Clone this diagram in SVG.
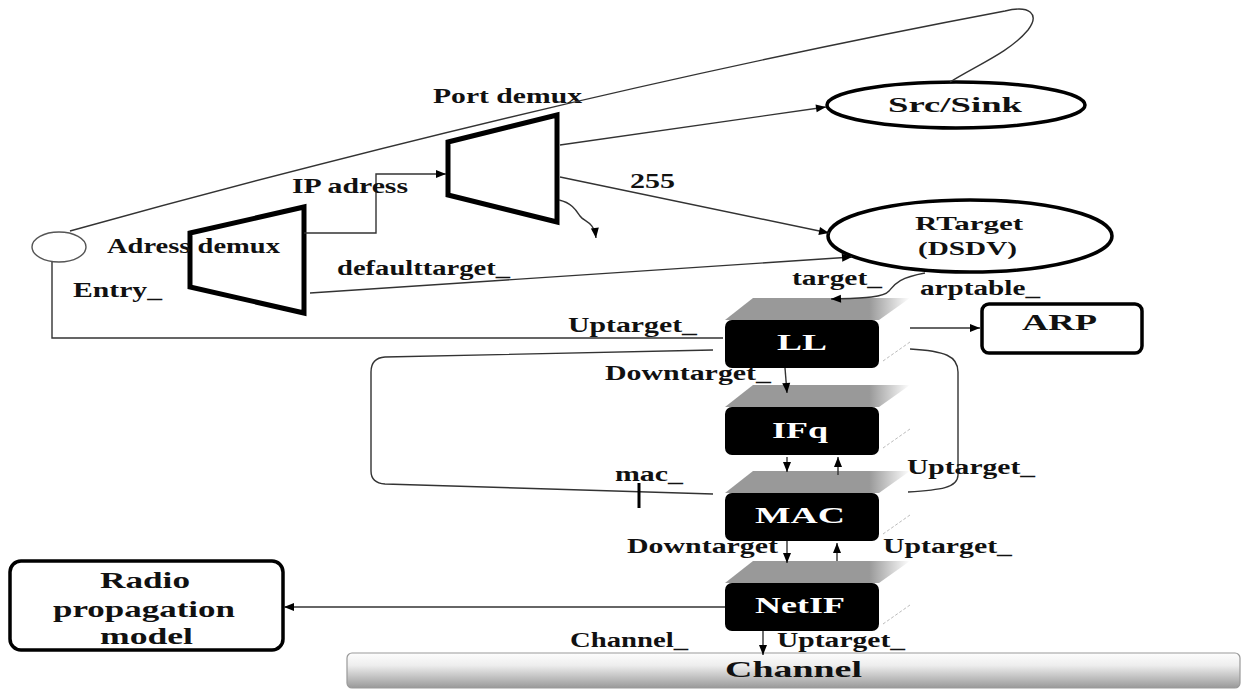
<svg xmlns="http://www.w3.org/2000/svg" width="1245" height="689" viewBox="0 0 1245 689">
<style>
.t{font-family:"Liberation Serif","Times New Roman",serif;font-weight:bold;font-size:20px;fill:#111}
.w{font-family:"Liberation Serif","Times New Roman",serif;font-weight:bold;font-size:23px;fill:#fff;text-anchor:middle}
.c{fill:none;stroke:#333;stroke-width:1.4}
.blk{fill:#000}
.top{fill:url(#tg)}
.side{fill:none;stroke:#bbb;stroke-width:1;stroke-dasharray:3 2}
.trap{fill:#fff;stroke:#000;stroke-width:5;stroke-linejoin:miter}
.ell{fill:#fff;stroke:#000;stroke-width:3.5}
.rbox{fill:#fff;stroke:#000;stroke-width:3.5}
</style>
<defs>
<marker id="a" viewBox="0 0 10 10" refX="10" refY="5" markerWidth="12" markerHeight="10" markerUnits="userSpaceOnUse" orient="auto"><path d="M0,1 L10,5 L0,9 z" fill="#000"/></marker>
<linearGradient id="tg" x1="0" y1="0" x2="1" y2="0"><stop offset="0" stop-color="#999"/><stop offset="0.78" stop-color="#999"/><stop offset="1" stop-color="#fff"/></linearGradient>
<linearGradient id="cg" x1="0" y1="0" x2="0" y2="1"><stop offset="0" stop-color="#fdfdfd"/><stop offset="0.35" stop-color="#eee"/><stop offset="1" stop-color="#999"/></linearGradient>
</defs>
<rect width="1245" height="689" fill="#fff"/>

<g id="entry">
<ellipse cx="59" cy="247" rx="27" ry="15" fill="#fff" stroke="#555" stroke-width="1.4"/>
<text class="t" x="73" y="297" textLength="89" lengthAdjust="spacingAndGlyphs">Entry_</text>
</g>

<g id="address-demux">
<polygon class="trap" points="190,233 304,207 304,313 190,287"/>
<text class="t" x="107" y="253" textLength="173" lengthAdjust="spacingAndGlyphs">Adress demux</text>
</g>

<g id="port-demux">
<polygon class="trap" points="448,142 557,115 557,222 448,195"/>
<text class="t" x="433" y="103" textLength="149" lengthAdjust="spacingAndGlyphs">Port demux</text>
</g>

<g id="src-sink">
<ellipse class="ell" cx="956" cy="105" rx="129" ry="23"/>
<text class="t" x="888" y="112" style="font-size:22px" textLength="134" lengthAdjust="spacingAndGlyphs">Src/Sink</text>
</g>

<g id="rtarget">
<ellipse class="ell" cx="970" cy="236" rx="142" ry="36"/>
<text class="t" x="915" y="230" style="font-size:19px" textLength="108" lengthAdjust="spacingAndGlyphs">RTarget</text>
<text class="t" x="918" y="255" style="font-size:19px" textLength="99" lengthAdjust="spacingAndGlyphs">(DSDV)</text>
</g>

<g id="ll">
<polygon class="top" points="725,320 753,298 910,298 879,320"/>
<line class="side" x1="883" y1="361" x2="910" y2="342"/>
<rect class="blk" x="725" y="320" width="154" height="48" rx="7"/>
<text class="w" x="802" y="350" textLength="50" lengthAdjust="spacingAndGlyphs">LL</text>
</g>

<g id="ifq">
<polygon class="top" points="725,407 753,385 910,385 879,407"/>
<line class="side" x1="883" y1="448" x2="910" y2="429"/>
<rect class="blk" x="725" y="407" width="154" height="48" rx="7"/>
<text class="w" x="800" y="438" textLength="56" lengthAdjust="spacingAndGlyphs">IFq</text>
</g>

<g id="mac">
<polygon class="top" points="725,493 753,471 910,471 879,493"/>
<line class="side" x1="883" y1="534" x2="910" y2="515"/>
<rect class="blk" x="725" y="493" width="154" height="48" rx="7"/>
<text class="w" x="800" y="523" textLength="90" lengthAdjust="spacingAndGlyphs">MAC</text>
</g>

<g id="netif">
<polygon class="top" points="725,583 753,561 910,561 879,583"/>
<line class="side" x1="883" y1="624" x2="910" y2="605"/>
<rect class="blk" x="725" y="583" width="154" height="48" rx="7"/>
<text class="w" x="800" y="613" textLength="90" lengthAdjust="spacingAndGlyphs">NetIF</text>
</g>

<g id="arp">
<rect class="rbox" x="982" y="304" width="160" height="49" rx="7"/>
<text class="t" x="1022" y="330" style="font-size:24px" textLength="75" lengthAdjust="spacingAndGlyphs">ARP</text>
</g>

<g id="radio">
<rect class="rbox" x="10" y="561" width="273" height="89" rx="11"/>
<text class="t" x="100" y="588" style="font-size:23px" textLength="90" lengthAdjust="spacingAndGlyphs">Radio</text>
<text class="t" x="53" y="617" style="font-size:23px" textLength="182" lengthAdjust="spacingAndGlyphs">propagation</text>
<text class="t" x="100" y="644" style="font-size:23px" textLength="93" lengthAdjust="spacingAndGlyphs">model</text>
</g>

<g id="channel">
<rect x="347" y="653" width="893" height="35" rx="5" fill="url(#cg)" stroke="#999" stroke-width="1.2"/>
<text class="t" x="725" y="677" style="font-size:24px" textLength="137" lengthAdjust="spacingAndGlyphs">Channel</text>
</g>

<g id="connectors">
<path class="c" d="M70,231 Q560,95 1005,11 C1030,5 1040,14 1028,30 C1010,52 975,66 950,82"/>
<path class="c" d="M52,262 L52,338 L723,338"/>
<path class="c" d="M304,233 L376,233 L376,174 L446,174" marker-end="url(#a)"/>
<path class="c" d="M310,293 L852,257" marker-end="url(#a)"/>
<path class="c" d="M560,145 L826,107" marker-end="url(#a)"/>
<path class="c" d="M560,177 L829,233" marker-end="url(#a)"/>
<path class="c" d="M559,200 C572,203 576,210 580,216 C584,222 594,221 596,238" marker-end="url(#a)"/>
<path class="c" d="M925,273 C898,278 895,284 889,291 C883,298 860,298 831,299" marker-end="url(#a)"/>
<path class="c" d="M910,328 L980,328" marker-end="url(#a)"/>
<path class="c" d="M713,350 L385,357 Q371,358 371,372 L371,471 Q371,483 385,484 L713,494"/>
<path class="c" d="M910,349 C945,351 958,356 958,372 L958,475 C958,488 940,490 908,492"/>
<path class="c" d="M785,368 L787,393" marker-end="url(#a)"/>
<path class="c" d="M787,457 L787,472" marker-end="url(#a)"/>
<path class="c" d="M838,475 L838,457" marker-end="url(#a)"/>
<path class="c" d="M787,541 L787,563" marker-end="url(#a)"/>
<path class="c" d="M837,561 L837,543" marker-end="url(#a)"/>
<path class="c" d="M763,631 L763,655" marker-end="url(#a)"/>
<path class="c" d="M725,607 L284,607" marker-end="url(#a)"/>
<path d="M639,483 L639,508" stroke="#000" stroke-width="3"/>
</g>

<g id="labels">
<text class="t" x="292" y="193" textLength="116" lengthAdjust="spacingAndGlyphs">IP adress</text>
<text class="t" x="337" y="275" textLength="173" lengthAdjust="spacingAndGlyphs">defaulttarget_</text>
<text class="t" x="630" y="188" textLength="45" lengthAdjust="spacingAndGlyphs">255</text>
<text class="t" x="792" y="285" textLength="90" lengthAdjust="spacingAndGlyphs">target_</text>
<text class="t" x="920" y="295" textLength="120" lengthAdjust="spacingAndGlyphs">arptable_</text>
<text class="t" x="568" y="332" textLength="129" lengthAdjust="spacingAndGlyphs">Uptarget_</text>
<text class="t" x="605" y="380" textLength="166" lengthAdjust="spacingAndGlyphs">Downtarget_</text>
<text class="t" x="615" y="481" textLength="68" lengthAdjust="spacingAndGlyphs">mac_</text>
<text class="t" x="907" y="474" textLength="128" lengthAdjust="spacingAndGlyphs">Uptarget_</text>
<text class="t" x="627" y="553" textLength="151" lengthAdjust="spacingAndGlyphs">Downtarget</text>
<text class="t" x="883" y="553" textLength="129" lengthAdjust="spacingAndGlyphs">Uptarget_</text>
<text class="t" x="570" y="647" textLength="118" lengthAdjust="spacingAndGlyphs">Channel_</text>
<text class="t" x="777" y="647" textLength="128" lengthAdjust="spacingAndGlyphs">Uptarget_</text>
</g>
</svg>
